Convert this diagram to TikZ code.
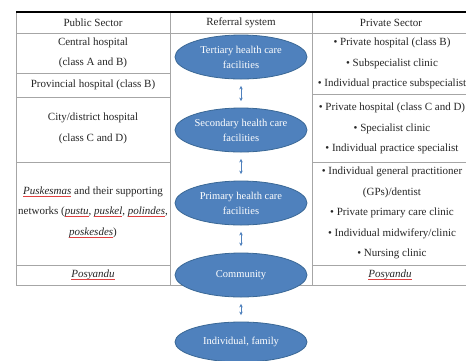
\documentclass[tikz,border=0pt]{standalone}
\usepackage{fontspec}
\setmainfont{Liberation Serif}
\usetikzlibrary{shapes.geometric,arrows.meta}
\definecolor{ellfill}{HTML}{4F81BD}
\definecolor{elldraw}{HTML}{3A6896}
\definecolor{txt}{HTML}{262626}
\definecolor{rule}{HTML}{A6A6A6}
\definecolor{squig}{HTML}{E04040}
\newsavebox\ulbox
\newcommand\redul[1]{\sbox\ulbox{\itshape #1}\rlap{\usebox\ulbox}{\color{squig}\rule[-2.2pt]{\wd\ulbox}{0.45pt}}}
\tikzset{
  cell/.style={text=txt, align=center, inner sep=0pt, font=\fontsize{11}{20.5}\selectfont},
  level/.style={ellipse, fill=ellfill, draw=elldraw, line width=0.8pt, minimum width=132pt,
    minimum height=44pt, inner sep=0pt, text=white, align=center,
    font=\fontsize{10.5}{15}\selectfont},
  link/.style={draw=ellfill, line width=0.9pt, {Stealth[length=3.5pt,width=3.5pt]}-{Stealth[length=3.5pt,width=3.5pt]},
    shorten <=6.5pt, shorten >=6.5pt},
  grid/.style={draw=rule, line width=0.7pt},
}
\begin{document}
\begin{tikzpicture}[x=1pt,y=-1pt]
\useasboundingbox (0,0) rectangle (466,360);
\fill[white] (0,0) rectangle (466,360);
% table lines
\draw[grid] (16,12) -- (16,285);
\draw[grid] (170,12) -- (170,285);
\draw[grid] (312,12) -- (312,285);
\draw[grid] (16,33) -- (480,33);
\draw[grid] (16,73) -- (170,73);
\draw[grid] (16,97) -- (170,97);
\draw[grid] (16,162) -- (170,162);
\draw[grid] (16,265) -- (170,265);
\draw[grid] (16,285) -- (480,285);
\draw[grid] (312,94) -- (480,94);
\draw[grid] (312,162) -- (480,162);
\draw[grid] (312,265) -- (480,265);
\draw[black, line width=1.1pt] (16,12) -- (480,12);
% headers
\node[cell] (pubh) at (93,22.5) {Public Sector};
\node[cell] (refh) at (241,22.5) {Referral system};
\node[cell] (prih) at (391,22.5) {Private Sector};
% public sector
\node[cell] (central) at (93,53) {Central hospital\\(class A and B)};
\node[cell] (prov) at (93,85) {Provincial hospital (class B)};
\node[cell] (city) at (93,128.5) {City/district hospital\\(class C and D)};
\node[cell] (pusk) at (93,212) {\redul{Puskesmas} and their supporting\\networks (\redul{pustu}, \redul{puskel}, \redul{polindes},\\\redul{poskesdes})};
\node[cell] (posl) at (93,275) {\redul{Posyandu}};
% private sector
\node[cell] (priv1) at (392,63.5) {• Private hospital (class B)\\• Subspecialist clinic\\• Individual practice subspecialist};
\node[cell] (priv2) at (392,128.5) {• Private hospital (class C and D)\\• Specialist clinic\\• Individual practice specialist};
\node[cell] (priv3) at (392,213) {• Individual general practitioner\\(GPs)/dentist\\• Private primary care clinic\\• Individual midwifery/clinic\\• Nursing clinic};
\node[cell] (posr) at (390,275) {\redul{Posyandu}};
% referral ellipses
\node[level] (e1) at (241,57) {Tertiary health care\\facilities};
\node[level] (e2) at (241,130) {Secondary health care\\facilities};
\node[level] (e3) at (241,203) {Primary health care\\facilities};
\node[level] (e4) at (241,275) {Community};
\node[level, minimum height=40pt] (e5) at (241,342) {Individual, family};
\draw[link] (e1) -- (e2);
\draw[link] (e2) -- (e3);
\draw[link] (e3) -- (e4);
\draw[link] (e4) -- (e5);
\end{tikzpicture}
\end{document}
